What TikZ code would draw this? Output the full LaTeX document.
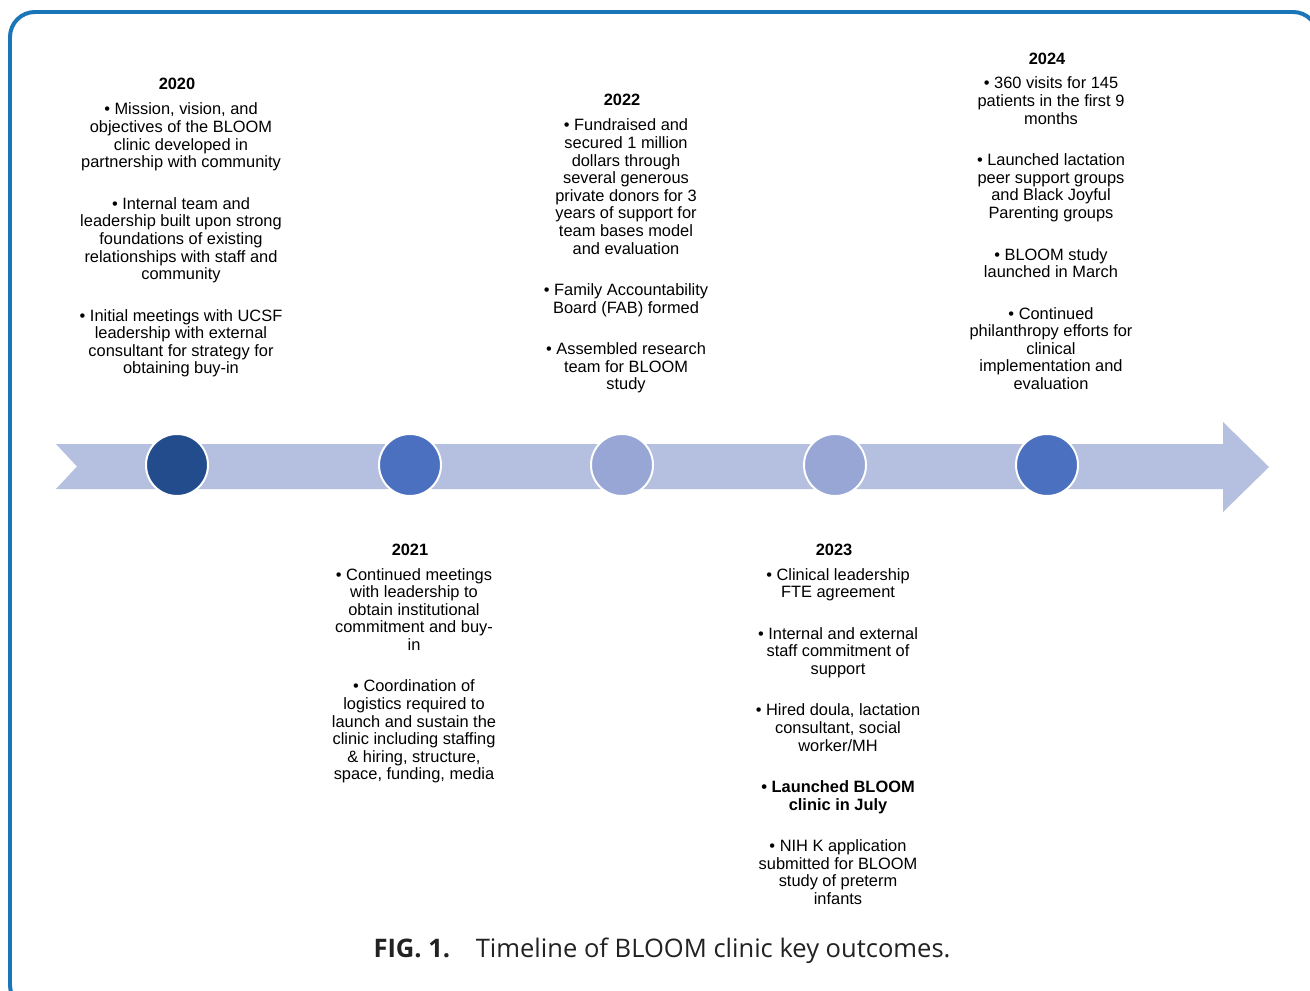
\documentclass[tikz,border=0pt]{standalone}
\usepackage{fontspec}
\setmainfont{Liberation Sans}
\newfontfamily\capfont{Open Sans}
\definecolor{framebl}{HTML}{1B75B9}
\definecolor{band}{HTML}{B5BFDF}
\definecolor{dotdark}{HTML}{234C8D}
\definecolor{dotmid}{HTML}{4A70BF}
\definecolor{dotlight}{HTML}{97A6D5}
\definecolor{captxt}{HTML}{222222}
\newcommand{\pgap}{\\[20.5pt]}
\newcommand{\stack}[1]{\begin{tabular}[t]{@{}c@{}}#1\end{tabular}}
\begin{document}
\begin{tikzpicture}[x=0.03cm, y=-0.03cm,
  yearlbl/.style={inner sep=0pt, anchor=base, font=\fontsize{14}{15}\selectfont\bfseries},
  bodytxt/.style={inner sep=0pt, anchor=base, font=\fontsize{14}{15}\selectfont},
  dot/.style={circle, draw=white, line width=1.7pt, minimum size=62*0.03cm, inner sep=0pt},
  captionlbl/.style={inner sep=0pt, anchor=base, text=captxt, font=\capfont\fontsize{21.8}{26}\selectfont}]
\useasboundingbox (0,0) rectangle (1310,991);
\clip (0,0) rectangle (1310,991);
\fill[white] (0,0) rectangle (1310,991);
% outer frame
\draw[framebl, line width=3.4pt, rounded corners=0.75cm] (10,12) rectangle (1318,1010);
% timeline band with notched tail and arrow head
\fill[band] (56,444) -- (1223,444) -- (1223,422) -- (1269,467) -- (1223,512)
  -- (1223,489) -- (56,489) -- (77,466.5) -- cycle;
% year markers
\node[dot, fill=dotdark]  (d2020) at (177,465) {};
\node[dot, fill=dotmid]   (d2021) at (410,465) {};
\node[dot, fill=dotlight] (d2022) at (622,465) {};
\node[dot, fill=dotlight] (d2023) at (835,465) {};
\node[dot, fill=dotmid]   (d2024) at (1047,465) {};
% 2020
\node[yearlbl] (y2020) at (177,90) {2020};
\node[bodytxt] (t2020) at (181,115) {\stack{%
  • Mission, vision, and\\ objectives of the BLOOM\\ clinic developed in\\ partnership with community\pgap
  • Internal team and\\ leadership built upon strong\\ foundations of existing\\ relationships with staff and\\ community\pgap
  • Initial meetings with UCSF\\ leadership with external\\ consultant for strategy for\\ obtaining buy-in}};
% 2021
\node[yearlbl] (y2021) at (410,555) {2021};
\node[bodytxt] (t2021) at (414,580) {\stack{%
  • Continued meetings\\ with leadership to\\ obtain institutional\\ commitment and buy-\\ in\pgap
  • Coordination of\\ logistics required to\\ launch and sustain the\\ clinic including staffing\\ \& hiring, structure,\\ space, funding, media}};
% 2022
\node[yearlbl] (y2022) at (622,106) {2022};
\node[bodytxt] (t2022) at (626,131) {\stack{%
  • Fundraised and\\ secured 1 million\\ dollars through\\ several generous\\ private donors for 3\\ years of support for\\ team bases model\\ and evaluation\pgap
  • Family Accountability\\ Board (FAB) formed\pgap
  • Assembled research\\ team for BLOOM\\ study}};
% 2023
\node[yearlbl] (y2023) at (834,555) {2023};
\node[bodytxt] (t2023) at (838,580) {\stack{%
  • Clinical leadership\\ FTE agreement\pgap
  • Internal and external\\ staff commitment of\\ support\pgap
  • Hired doula, lactation\\ consultant, social\\ worker/MH\pgap
  \textbf{• Launched BLOOM}\\ \textbf{clinic in July}\pgap
  • NIH K application\\ submitted for BLOOM\\ study of preterm\\ infants}};
% 2024
\node[yearlbl] (y2024) at (1047,65) {2024};
\node[bodytxt] (t2024) at (1051,89) {\stack{%
  • 360 visits for 145\\ patients in the first 9\\ months\pgap
  • Launched lactation\\ peer support groups\\ and Black Joyful\\ Parenting groups\pgap
  • BLOOM study\\ launched in March\pgap
  • Continued\\ philanthropy efforts for\\ clinical\\ implementation and\\ evaluation}};
% caption
\node[captionlbl] (cap) at (662,957) {{\bfseries FIG. 1.}\hspace{1em}Timeline of BLOOM clinic key outcomes.};
\end{tikzpicture}
\end{document}
